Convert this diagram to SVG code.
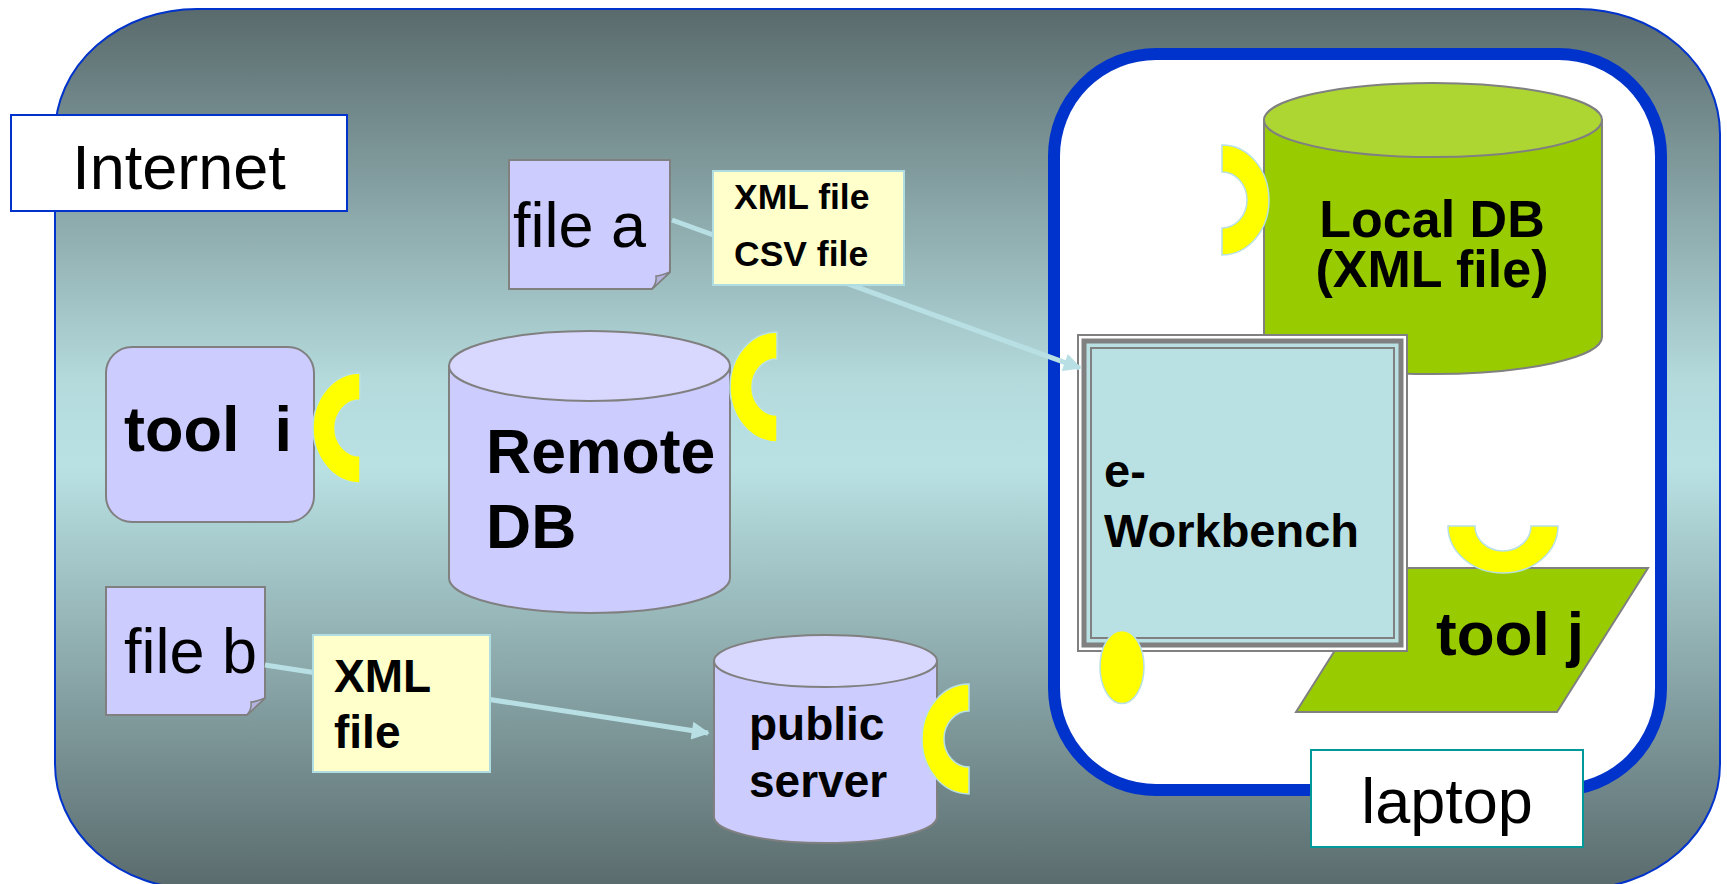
<svg xmlns="http://www.w3.org/2000/svg" xmlns:xlink="http://www.w3.org/1999/xlink" width="1727" height="884" viewBox="0 0 1727 884">
  <style>
    .lbl { font-family: "Liberation Sans", Arial, sans-serif; fill: #000; }
    .b { font-weight: bold; }
    .shape { stroke: #808080; stroke-width: 2; }
    .lilac { fill: #ccccff; }
    .lilac-top { fill: #d8d8ff; }
    .green { fill: #99cc00; }
    .green-top { fill: #add633; }
    .note { fill: #ffffcc; stroke: #b0dde2; stroke-width: 2; }
    .ring { fill: #ffff00; stroke: #b8e0e4; stroke-width: 1.5; }
    .conn { stroke: #b8e0e4; stroke-width: 5; fill: none; }
  </style>
  <defs>
    <linearGradient id="sky" x1="0" y1="9" x2="0" y2="890" gradientUnits="userSpaceOnUse">
      <stop offset="0" stop-color="#596a6c"/>
      <stop offset="0.42" stop-color="#b4dadc"/>
      <stop offset="0.52" stop-color="#b9e1e3"/>
      <stop offset="1" stop-color="#596a6c"/>
    </linearGradient>
    <!-- half ring, open side to the right -->
    <path id="ring" d="M0,-55 A47,55 0 0 0 0,55 L0,28 A25,28 0 0 1 0,-28 Z"/>
    <marker id="arrow" viewBox="0 0 10 10" refX="9" refY="5" markerWidth="4.4" markerHeight="3.6" orient="auto" markerUnits="strokeWidth">
      <path d="M0,0 L10,5 L0,10 Z" fill="#b8e0e4"/>
    </marker>
  </defs>

  <!-- Internet cloud area -->
  <g id="internet">
    <rect x="55" y="9" width="1665" height="880" rx="142" ry="125" fill="url(#sky)" stroke="#0033cc" stroke-width="2"/>
  </g>

  <!-- laptop container -->
  <g id="laptop">
    <rect x="1054" y="54" width="607" height="736" rx="102" ry="102" fill="#ffffff" stroke="#0033cc" stroke-width="12"/>
  </g>

  <g id="tool-i">
    <rect class="shape lilac" x="106" y="347" width="208" height="175" rx="26" ry="26"/>
    <text class="lbl b" x="124" y="451" font-size="63" xml:space="preserve">tool  i</text>
    <use xlink:href="#ring" class="ring" transform="translate(360,428)"/>
  </g>

  <g id="remote-db">
    <path class="shape lilac" d="M449,366 V578 A140.5,35 0 0 0 730,578 V366 Z"/>
    <ellipse class="shape lilac-top" cx="589.5" cy="366" rx="140.5" ry="35"/>
    <text class="lbl b" x="486" y="473" font-size="62.5">Remote</text>
    <text class="lbl b" x="486" y="548" font-size="62.5">DB</text>
    <use xlink:href="#ring" class="ring" transform="translate(777,387)"/>
  </g>

  <g id="file-a">
    <path class="shape lilac" d="M509,160 H670 V272 L652,289 H509 Z"/>
    <path d="M670,272 Q660,276 656,276 Q657,283 652,289 Z" fill="#b3b3e0" stroke="#808080" stroke-width="1.5"/>
    <text class="lbl" x="513" y="247" font-size="63">file a</text>
  </g>

  <g id="file-b">
    <path class="shape lilac" d="M106,587 H265 V698 L247,715 H106 Z"/>
    <path d="M265,698 Q255,702 251,702 Q252,709 247,715 Z" fill="#b3b3e0" stroke="#808080" stroke-width="1.5"/>
    <text class="lbl" x="124" y="673" font-size="63">file b</text>
  </g>

  <g id="public-server">
    <path class="shape lilac" d="M714,661 V817 A111.5,26 0 0 0 937,817 V661 Z"/>
    <ellipse class="shape lilac-top" cx="825.5" cy="661" rx="111.5" ry="26"/>
    <text class="lbl b" x="749" y="740" font-size="46">public</text>
    <text class="lbl b" x="749" y="797" font-size="46">server</text>
    <use xlink:href="#ring" class="ring" transform="translate(969,739)"/>
  </g>

  <g id="local-db">
    <path class="shape green" d="M1264,120 V337 A169,37 0 0 0 1602,337 V120 Z"/>
    <ellipse class="shape green-top" cx="1433" cy="120" rx="169" ry="37"/>
    <text class="lbl b" x="1432" y="237" font-size="52" text-anchor="middle">Local DB</text>
    <text class="lbl b" x="1432" y="287" font-size="52" text-anchor="middle">(XML file)</text>
    <use xlink:href="#ring" class="ring" transform="translate(1222,200) scale(-1,1)"/>
  </g>

  <g id="tool-j">
    <path class="shape green" d="M1387,568 H1648 L1557,712 H1296 Z"/>
    <text class="lbl b" x="1436" y="655" font-size="62">tool j</text>
  </g>

  <g id="e-workbench">
    <rect x="1078" y="335" width="329" height="316" fill="#ffffff" stroke="#808080" stroke-width="2"/>
    <rect x="1084" y="341" width="317" height="304" fill="#b9e0e3" stroke="#808080" stroke-width="5"/>
    <rect x="1091" y="348" width="303" height="290" fill="none" stroke="#808080" stroke-width="2"/>
    <text class="lbl b" x="1104" y="487" font-size="47">e-</text>
    <text class="lbl b" x="1104" y="547" font-size="47">Workbench</text>
    <ellipse class="ring" cx="1122" cy="667" rx="22" ry="36.5"/>
  </g>

  <g id="tool-j-ring">
    <use xlink:href="#ring" class="ring" transform="translate(1503,526) rotate(-90)"/>
  </g>

  <!-- data flows -->
  <g id="connectors">
    <line class="conn" x1="672" y1="220" x2="1080" y2="368" marker-end="url(#arrow)"/>
    <line class="conn" x1="265" y1="665" x2="708" y2="733" marker-end="url(#arrow)"/>
  </g>

  <g id="label-xml-csv">
    <rect class="note" x="713" y="171" width="191" height="114"/>
    <text class="lbl b" x="734" y="209" font-size="35.5">XML file</text>
    <text class="lbl b" x="734" y="266" font-size="35.5">CSV file</text>
  </g>

  <g id="label-xml">
    <rect class="note" x="313" y="635" width="177" height="137"/>
    <text class="lbl b" x="334" y="692" font-size="46">XML</text>
    <text class="lbl b" x="334" y="748" font-size="46">file</text>
  </g>

  <g id="internet-label">
    <rect x="11" y="115" width="336" height="96" fill="#ffffff" stroke="#0033cc" stroke-width="2"/>
    <text class="lbl" x="179" y="189" font-size="63" text-anchor="middle">Internet</text>
  </g>

  <g id="laptop-label">
    <rect x="1311" y="750" width="272" height="97" fill="#ffffff" stroke="#009999" stroke-width="2"/>
    <text class="lbl" x="1447" y="823" font-size="63" text-anchor="middle">laptop</text>
  </g>
</svg>
